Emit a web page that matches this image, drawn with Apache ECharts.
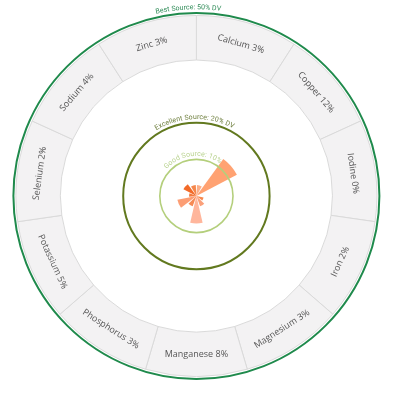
<!DOCTYPE html>
<html><head><meta charset="utf-8">
<script src="https://cdn.jsdelivr.net/npm/echarts@6.0.0/dist/echarts.min.js"></script>
<style>html,body{margin:0;padding:0;background:#fff}#c{width:400px;height:400px}</style>
</head><body><div id="c"></div>
<script>
// ---- data ----
const categories = ['Calcium','Copper','Iodine','Iron','Magnesium','Manganese','Phosphorus','Potassium','Selenium','Sodium','Zinc'];
const dvLabels = [3, 12, 0, 2, 3, 8, 3, 5, 2, 4, 3];          // % DV shown in the ring labels
const barValues = [3, 12.5, 0, 2, 3, 7.5, 3, 5.3, 2, 4, 3];   // bar lengths (% DV)
const barColors = ['#FCAE88','#FFA272','#F8884E','#F7884E','#FBA07A','#FFB69C','#F68A55','#FC9E75','#F47A3D','#F26A28','#F5874C'];
const thresholdValues = [10, 20, 50];
const thresholdLabels = ['Good Source: 10%', 'Excellent Source: 20% DV', 'Best Source: 50% DV'];
const thresholdColors = ['#B4CF7C', '#62791F', '#1F8A4C'];
const thresholdTextColors = ['#B8D28E', '#6E7F3E', '#2E8B57'];
const thresholdWidths = [1.6, 2, 2];
const thresholdShift = [-4, -2, -8];   // small horizontal shift of the curved captions (px along arc)

const FONT = '"Open Sans", Roboto, sans-serif';
const measureCtx = document.createElement('canvas').getContext('2d');

const chart = echarts.init(document.getElementById('c'), null, {renderer: 'canvas'});

function renderThreshold(params, api) {
  const cs = params.coordSys;
  const v = api.value(0);
  const idx = params.dataIndex;
  const p = api.coord([v, 0]);
  const r = Math.hypot(p[0] - cs.cx, p[1] - cs.cy);
  const children = [{
    type: 'circle',
    shape: {cx: cs.cx, cy: cs.cy, r: r},
    style: {fill: 'none', stroke: thresholdColors[idx], lineWidth: thresholdWidths[idx]}
  }];
  const text = thresholdLabels[idx];
  const fs = 7;
  measureCtx.font = fs + 'px Roboto';
  const widths = Array.from(text).map(ch => measureCtx.measureText(ch).width);
  const total = widths.reduce((a, b) => a + b, 0);
  const R = r + thresholdWidths[idx] / 2 + 1;
  let cum = 0;
  const startPhi = -Math.PI / 2 + (thresholdShift[idx] - total / 2) / R;
  Array.from(text).forEach((ch, i) => {
    const phi = startPhi + (cum + widths[i] / 2) / R;
    cum += widths[i];
    children.push({
      type: 'text',
      x: cs.cx + R * Math.cos(phi),
      y: cs.cy + R * Math.sin(phi),
      rotation: -(phi + Math.PI / 2),
      style: {
        text: ch, fill: thresholdTextColors[idx],
        fontSize: fs, fontFamily: 'Roboto',
        align: 'center', verticalAlign: 'bottom',
        textAlign: 'center', textVerticalAlign: 'bottom'
      }
    });
  });
  return {type: 'group', children: children};
}

const option = {
  backgroundColor: '#ffffff',
  animation: false,
  polar: [
    {center: ['49.1%', '49%'], radius: 183},
    {center: ['49.1%', '49%'], radius: [136, 180.5]}
  ],
  angleAxis: [
    {polarIndex: 0, type: 'category', data: categories, startAngle: 90, clockwise: true, show: false},
    {polarIndex: 1, type: 'category', data: categories, startAngle: 90, clockwise: true, show: false}
  ],
  radiusAxis: [
    {polarIndex: 0, type: 'value', min: 0, max: 50, show: false},
    {polarIndex: 1, type: 'value', min: 0, max: 1, show: false}
  ],
  series: [
    {
      type: 'bar', coordinateSystem: 'polar', polarIndex: 1, silent: true,
      data: categories.map(() => 1),
      barCategoryGap: '0%',
      itemStyle: {color: '#F3F2F3', borderColor: '#DADADA', borderWidth: 1},
      label: {
        show: true, position: 'middle',
        formatter: p => categories[p.dataIndex] + ' ' + dvLabels[p.dataIndex] + '%',
        color: '#555', fontSize: 9, fontFamily: FONT
      },
      z: 1
    },
    {
      type: 'bar', coordinateSystem: 'polar', polarIndex: 0, silent: true,
      data: barValues.map((v, i) => ({value: v, itemStyle: {color: barColors[i]}})),
      barCategoryGap: '20%',
      z: 2
    },
    {
      type: 'custom', coordinateSystem: 'polar', polarIndex: 0, silent: true,
      data: thresholdValues.map(v => [v, 0]),
      renderItem: renderThreshold,
      z: 3
    }
  ]
};
chart.setOption(option);
</script>
</body></html>
